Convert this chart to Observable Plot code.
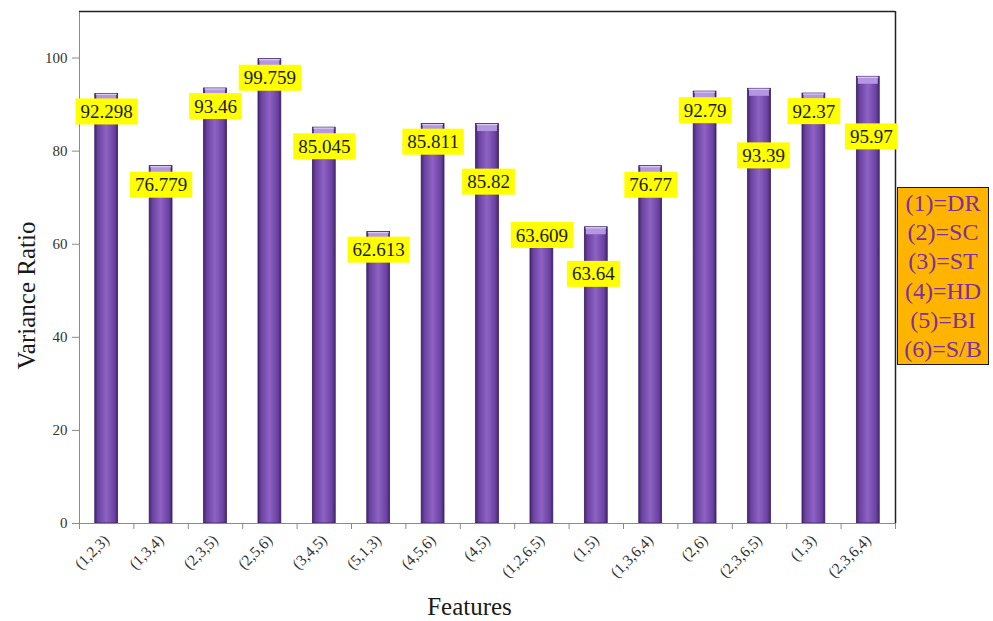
<!DOCTYPE html>
<html>
<head>
<meta charset="utf-8">
<script src="https://cdn.jsdelivr.net/npm/d3@7"></script>
<script src="https://cdn.jsdelivr.net/npm/@observablehq/plot@0.6"></script>
<style>
  body { margin: 0; background: #fff; }
  #wrap { position: relative; width: 993px; height: 621px; }
  #legend {
    position: absolute; left: 897px; top: 187px; width: 90px; height: 175px;
    background: #ffb400; border: 1.5px solid #1a1a1a; color: #7b2fa3;
    font-family: "Liberation Serif", serif; font-size: 24px; line-height: 29.2px;
    text-align: center; padding-top: 1px;
  }
</style>
</head>
<body>
<div id="wrap"><div id="legend"></div></div>
<script>
// Feature combinations and their variance ratios
const features = ["(1,2,3)", "(1,3,4)", "(2,3,5)", "(2,5,6)", "(3,4,5)", "(5,1,3)", "(4,5,6)", "(4,5)",
                  "(1,2,6,5)", "(1,5)", "(1,3,6,4)", "(2,6)", "(2,3,6,5)", "(1,3)", "(2,3,6,4)"];
const variance = [92.298, 76.779, 93.46, 99.759, 85.045, 62.613, 85.811, 85.82,
                  63.609, 63.64, 76.77, 92.79, 93.39, 92.37, 95.97];
const yTicks = [0, 20, 40, 60, 80, 100];
const legendCodes = ["(1)=DR", "(2)=SC", "(3)=ST", "(4)=HD", "(5)=BI", "(6)=S/B"];

// Value-label placement relative to the bar top (pixels)
const labelDy = [18, 19, 18, 19, 19, 18, 18, 58, 8, 47, 19, 19, 67, 18, 60];
const labelDx = [0, 0, 0, 0, 0, 0, 0, 1, 0, -3, 0, 0, 4, 0, 3];

const rows = features.map((f, i) => ({i, f, v: variance[i]}));

// Gradient definitions for the cylinder-like bars
const gradients = () => {
  const defs = d3.create("svg:defs");
  const body = defs.append("linearGradient").attr("id", "barBody")
    .attr("x1", "0").attr("x2", "1").attr("y1", "0").attr("y2", "0");
  [["0%", "#45266f"], ["14%", "#6a42a0"], ["50%", "#8d62c4"], ["86%", "#6a42a0"], ["100%", "#45266f"]]
    .forEach(([o, c]) => body.append("stop").attr("offset", o).attr("stop-color", c));
  return defs.node();
};

const chart = Plot.plot({
  width: 993,
  height: 621,
  marginLeft: 79,
  marginRight: 98,
  marginTop: 11,
  marginBottom: 98,
  x: {domain: [0, 15]},
  y: {domain: [0, 110]},
  style: {fontFamily: "Liberation Serif, Times New Roman, serif", background: "transparent", color: "#2a2a2a"},
  marks: [
    gradients,
    Plot.axisY({ticks: yTicks, tickSize: 7, tickPadding: 5, fontSize: 15, stroke: "#8a8a8a", fill: "#333", label: null}),
    Plot.axisX({ticks: d3.range(0, 16), tickSize: 6, tickFormat: () => "", stroke: "#8a8a8a", label: null}),
    Plot.axisX({ticks: d3.range(15).map(i => i + 0.5), tickFormat: t => features[Math.floor(t)],
                tickSize: 0, tickPadding: 14, tickRotate: -45, fontSize: 15.5, fill: "#333", label: null}),
    Plot.rectY(rows, {x1: d => d.i + 0.29, x2: d => d.i + 0.71, y1: 0, y2: "v",
                      fill: "url(#barBody)", stroke: "#3b1f63", strokeWidth: 0.8}),
    Plot.ruleY(rows, {x1: d => d.i + 0.29, x2: d => d.i + 0.71, y: "v", dy: 3.5,
                      stroke: "#b596e0", strokeWidth: 7, insetLeft: 1.5, insetRight: 1.5}),
    Plot.ruleY(rows, {x1: d => d.i + 0.29, x2: d => d.i + 0.71, y: "v", dy: 0.5,
                      stroke: "#dccdf3", strokeWidth: 1.2, insetLeft: 1, insetRight: 1}),
    Plot.ruleY([0], {stroke: "#8a8a8a"}),
    Plot.ruleX([0], {stroke: "#8a8a8a"}),
    Plot.ruleY([110], {stroke: "#222", strokeWidth: 1.5}),
    Plot.ruleX([15], {stroke: "#222", strokeWidth: 1.5}),
    ...rows.map(d => Plot.text([d], {
      x: r => r.i + 0.5, y: "v", text: r => String(r.v),
      dy: labelDy[d.i], dx: labelDx[d.i], fontSize: 19, fill: "#1a1a1a",
      lineAnchor: "middle", className: "value-label"
    })),
    Plot.text(["Variance Ratio"], {frameAnchor: "left", dx: -53, dy: 28, rotate: -90,
                                   textAnchor: "middle", fontSize: 25, fill: "#1a1a1a", lineAnchor: "middle"}),
    Plot.text(["Features"], {frameAnchor: "bottom", dx: -18, dy: 83, fontSize: 25,
                             textAnchor: "middle", fill: "#1a1a1a", lineAnchor: "middle"})
  ]
});

document.getElementById("wrap").prepend(chart);

// Yellow boxes behind the value labels
chart.querySelectorAll("g.value-label text").forEach(t => {
  const b = t.getBBox();
  const r = document.createElementNS("http://www.w3.org/2000/svg", "rect");
  const padX = 5, padY = 2.5;
  r.setAttribute("x", b.x - padX);
  r.setAttribute("y", b.y - padY);
  r.setAttribute("width", b.width + 2 * padX);
  r.setAttribute("height", b.height + 2 * padY);
  r.setAttribute("fill", "#ffff00");
  const tf = t.getAttribute("transform");
  if (tf) r.setAttribute("transform", tf);
  t.parentNode.insertBefore(r, t);
});

document.getElementById("legend").innerHTML = legendCodes.map(s => `<div>${s}</div>`).join("");
</script>
</body>
</html>
